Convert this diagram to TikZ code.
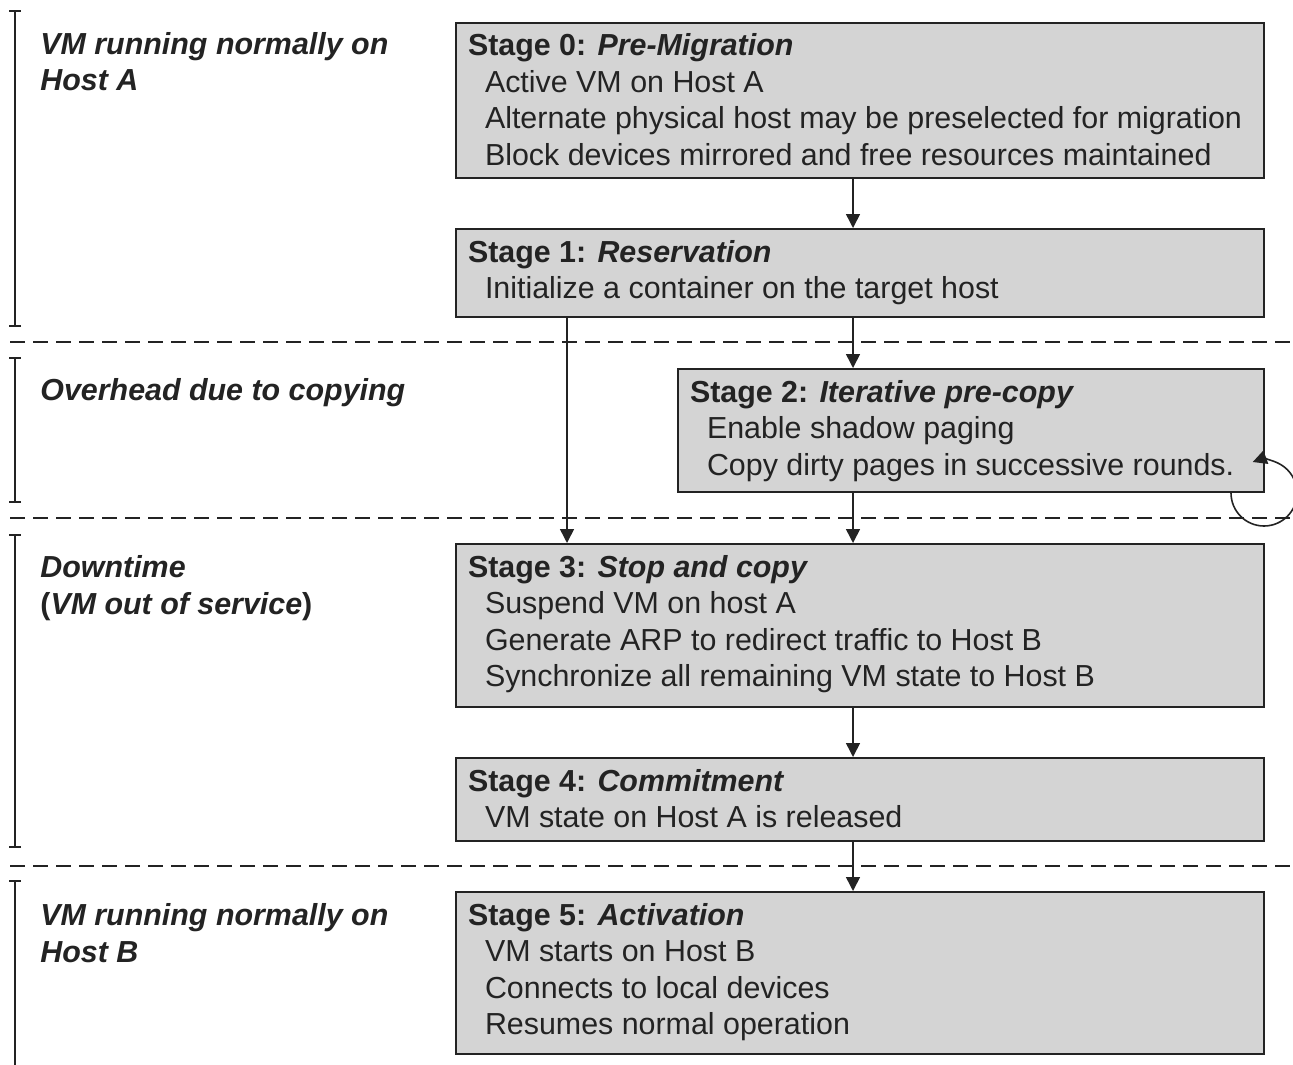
\documentclass[tikz,border=0pt]{standalone}
\usepackage{fontspec}
\setmainfont{Liberation Sans}
\usetikzlibrary{arrows.meta}
\definecolor{boxgray}{RGB}{212,212,212}
\definecolor{ink}{RGB}{35,35,35}
\newcommand{\stagetxt}[3]{\parbox[t]{#1}{\textbf{#2}\\#3}}
\newcommand{\itm}[1]{\hspace*{8.5pt}#1}
\begin{document}
\begin{tikzpicture}[x=0.5pt,y=-0.5pt,
  every node/.style={font=\fontsize{15.2}{18.25}\selectfont, text=ink},
  stagebox/.style={draw=ink, line width=1pt, fill=boxgray, anchor=north west,
    inner xsep=6pt, inner ysep=0pt, text height=16.5pt},
  phase/.style={anchor=base west, inner sep=0pt, align=left, font=\fontsize{15.2}{18.25}\selectfont\bfseries\itshape},
  arr/.style={draw=ink, line width=0.8pt, -{Triangle[length=7pt,width=7pt]}},
  sep/.style={draw=ink, line width=1pt, dash pattern=on 7.5pt off 4pt},
  brk/.style={draw=ink, line width=0.9pt}]
\useasboundingbox (0,0) rectangle (1293,1064);

% phase separators
\draw[sep] (10,342) -- (1293,342);
\draw[sep] (10,518) -- (1293,518);
\draw[sep] (10,866) -- (1293,866);

% brackets
\draw[brk,{Bar[width=6pt]}-{Bar[width=6pt]}] (15,10) -- (15,327);
\draw[brk,{Bar[width=6pt]}-{Bar[width=6pt]}] (15,357) -- (15,503);
\draw[brk,{Bar[width=6pt]}-{Bar[width=6pt]}] (15,534) -- (15,848);
\draw[brk,{Bar[width=6pt]}-] (15,880) -- (15,1075);

% phase labels (base = last line)
\node[phase] (p0) at (40,91) {VM running normally on\\Host A};
\node[phase] (p1) at (40,400) {Overhead due to copying};
\node[phase] (p2) at (40,614) {Downtime\\{\upshape(}VM out of service{\upshape)}};
\node[phase] (p3) at (40,962) {VM running normally on\\Host B};

% stage boxes
\node[stagebox, text depth=61pt] (s0) at (455,22) {\stagetxt{392pt}{Stage 0: \textit{Pre-Migration}}{%
  \itm{Active VM on Host A}\\
  \itm{Alternate physical host may be preselected for migration}\\
  \itm{Block devices mirrored and free resources maintained}}};
\node[stagebox, text depth=27.5pt] (s1) at (455,228) {\stagetxt{392pt}{Stage 1: \textit{Reservation}}{%
  \itm{Initialize a container on the target host}}};
\node[stagebox, text depth=45pt] (s2) at (677,368) {\stagetxt{281pt}{Stage 2: \textit{Iterative pre-copy}}{%
  \itm{Enable shadow paging}\\
  \itm{Copy dirty pages in successive rounds.}}};
\node[stagebox, text depth=65pt] (s3) at (455,543) {\stagetxt{392pt}{Stage 3: \textit{Stop and copy}}{%
  \itm{Suspend VM on host A}\\
  \itm{Generate ARP to redirect traffic to Host B}\\
  \itm{Synchronize all remaining VM state to Host B}}};
\node[stagebox, text depth=25pt] (s4) at (455,757) {\stagetxt{392pt}{Stage 4: \textit{Commitment}}{%
  \itm{VM state on Host A is released}}};
\node[stagebox, text depth=64.5pt] (s5) at (455,891) {\stagetxt{392pt}{Stage 5: \textit{Activation}}{%
  \itm{VM starts on Host B}\\
  \itm{Connects to local devices}\\
  \itm{Resumes normal operation}}};

% connector columns
\coordinate (ax) at (853,0);
\coordinate (bx) at (567,0);

\draw[arr] (s0.south -| ax) -- (s1.north -| ax);
\draw[arr] (s1.south -| ax) -- (s2.north -| ax);
\draw[arr] (s2.south -| ax) -- (s3.north -| ax);
\draw[arr] (s1.south -| bx) -- (s3.north -| bx);
\draw[arr] (s3.south -| ax) -- (s4.north -| ax);
\draw[arr] (s4.south -| ax) -- (s5.north -| ax);

% iteration loop
\coordinate (lp) at ([xshift=-17pt]s2.south east);
\draw[arr] (lp) arc[start angle=180, end angle=-110, radius=33];
\end{tikzpicture}
\end{document}
